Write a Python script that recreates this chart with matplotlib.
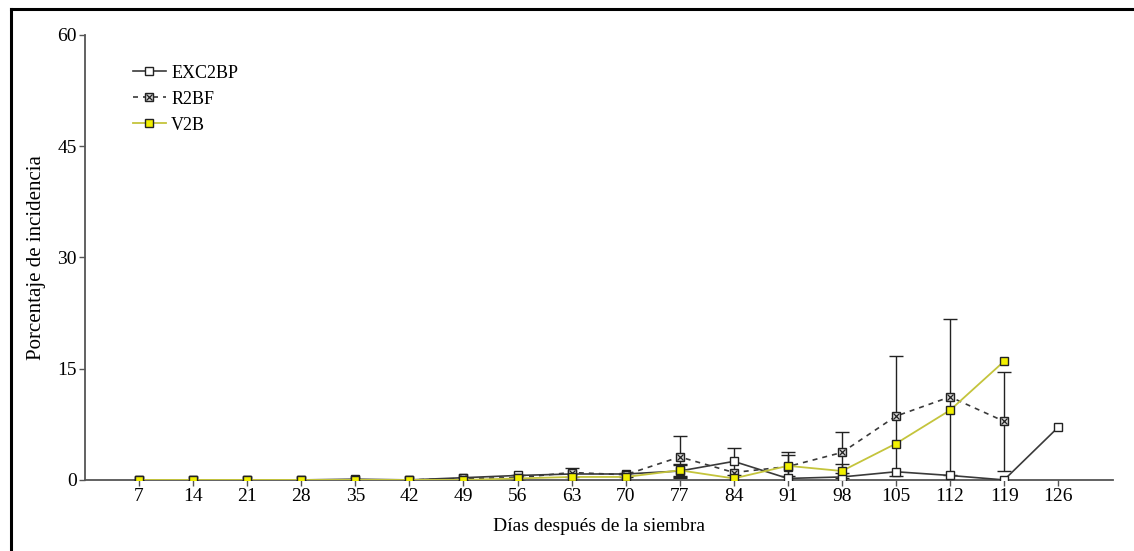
import numpy as np
import matplotlib
matplotlib.use("Agg")
import matplotlib.pyplot as plt
from matplotlib.lines import Line2D

plt.rcParams['font.family'] = ['Liberation Serif', 'DejaVu Serif']

# Días después de la siembra
dias = [7, 14, 21, 28, 35, 42, 49, 56, 63, 70, 77, 84, 91, 98, 105, 112, 119, 126]

exc2bp = [0, 0, 0, 0, 0.1, 0, 0.3, 0.6, 0.8, 0.8, 1.2, 2.5, 0.2, 0.4, 1.1, 0.6, 0, 7.1]
exc2bp_err = [0, 0, 0, 0, 0, 0, 0, 0, 0, 0, 0.8, 1.8, 0, 0, 0, 0, 0, 0]

r2bf_dias = dias[:-1]
r2bf = [0, 0, 0, 0, 0, 0, 0.2, 0.3, 1.0, 0.7, 3.1, 1.0, 1.8, 3.7, 8.6, 11.2, 7.9]
r2bf_err = [0, 0, 0, 0, 0, 0, 0, 0.3, 0.6, 0.3, 2.8, 0, 1.9, 2.7, 8.1, 10.5, 6.7]

v2b_dias = dias[:-1]
v2b = [0, 0, 0, 0, 0, 0, 0, 0.2, 0.4, 0.4, 1.3, 0.2, 1.9, 1.2, 4.9, 9.4, 16.0]
v2b_err = [0, 0, 0, 0, 0, 0, 0, 0, 0, 0, 0.8, 0, 1.4, 0.9, 0, 0, 0]

yticks = [0, 15, 30, 45, 60]

fig = plt.figure(figsize=(11.34, 5.51), dpi=100)
ax = fig.add_axes([0.075, 0.129, 0.9065, 0.8076])

gris = '#3a3a3a'
amarillo_linea = '#c4c43c'
amarillo = '#f2f000'


def barras(x, y, e):
    # solo los puntos que tienen error
    x, y, e = np.array(x), np.array(y), np.array(e)
    m = e > 0
    ax.errorbar(x[m], y[m], yerr=e[m], fmt='none', ecolor='#222222',
                elinewidth=1.0, capsize=5, capthick=1.0, zorder=2)


barras(dias, exc2bp, exc2bp_err)
barras(r2bf_dias, r2bf, r2bf_err)
barras(v2b_dias, v2b, v2b_err)

l1, = ax.plot(dias, exc2bp, color=gris, lw=1.2, marker='s', ms=6,
              mfc='white', mec='#222222', mew=1.0, zorder=3)
l2, = ax.plot(r2bf_dias, r2bf, color=gris, lw=1.2, ls=(0, (3, 3)), marker='s', ms=6,
              mfc='#d8d8d8', mec='#222222', mew=1.0, zorder=4)
l2x, = ax.plot(r2bf_dias, r2bf, ls='none', marker='x', ms=4.5, mec='#222222', mew=0.9, zorder=5)
l3, = ax.plot(v2b_dias, v2b, color=amarillo_linea, lw=1.3, marker='s', ms=6,
              mfc=amarillo, mec='#222222', mew=1.0, zorder=6)

ax.set_xlim(0, 133.1)
ax.set_ylim(0, 60)
ax.set_xticks(dias)
ax.set_yticks(yticks)
ax.tick_params(labelsize=14, length=4, width=1, color='#555555', pad=2)
for s in ['top', 'right']:
    ax.spines[s].set_visible(False)
for s in ['left', 'bottom']:
    ax.spines[s].set_color('#555555')
    ax.spines[s].set_linewidth(1.3)

ax.set_xlabel('Días después de la siembra', fontsize=14, labelpad=9)
ax.set_ylabel('Porcentaje de incidencia', fontsize=15, labelpad=8)

ax.legend([l1, (l2, l2x), l3], ['EXC2BP', 'R2BF', 'V2B'], loc='upper left',
          bbox_to_anchor=(0.031, 0.97), frameon=False, fontsize=13,
          handlelength=1.8, labelspacing=0.5, handletextpad=0.3)

# marco exterior
fig.add_artist(Line2D([11 / 1134, 11 / 1134], [0, 1 - 9 / 551], color='black', lw=2.2))
fig.add_artist(Line2D([11 / 1134, 1], [1 - 9 / 551, 1 - 9 / 551], color='black', lw=2.2))

fig.savefig('out.png', dpi=100)
